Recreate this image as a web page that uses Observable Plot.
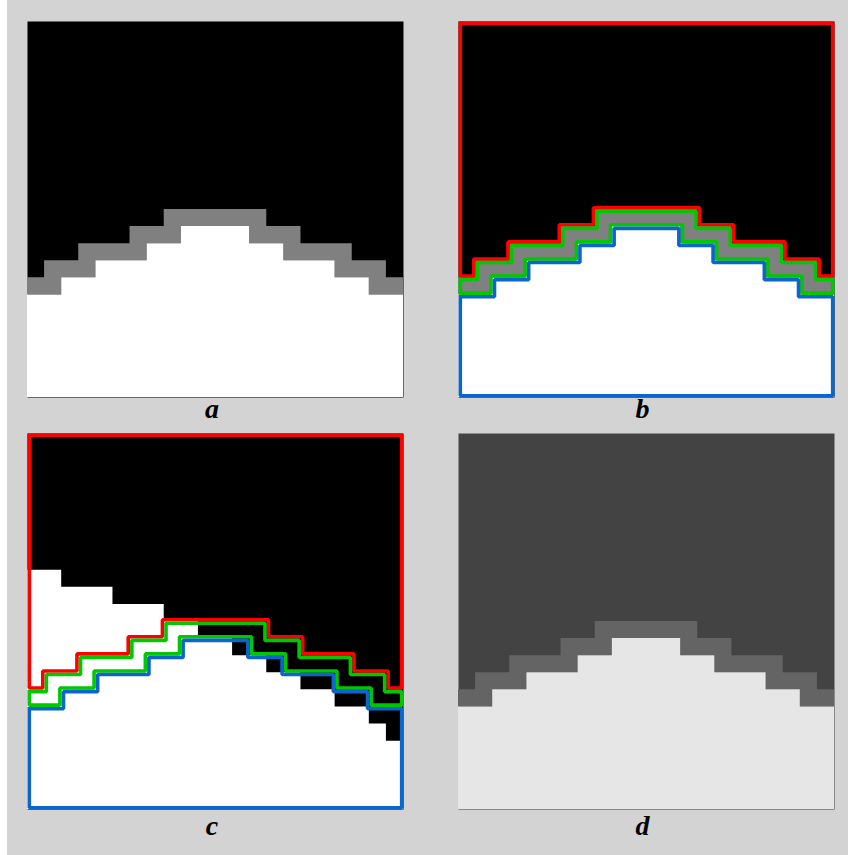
<!DOCTYPE html>
<html>
<head>
<meta charset="utf-8">
<script src="https://cdn.jsdelivr.net/npm/d3@7"></script>
<script src="https://cdn.jsdelivr.net/npm/@observablehq/plot@0.6"></script>
<style>
  html, body { margin: 0; padding: 0; background: #ffffff; }
  #wrap { position: relative; width: 853px; height: 855px; overflow: hidden; }
  #bg { position: absolute; left: 7px; top: 0; width: 841px; height: 855px; background: #d3d3d3; }
  .panel { position: absolute; width: 376px; height: 376px; }
  .lab { position: absolute; width: 376px; text-align: center;
         font: italic bold 28px "Liberation Serif", "DejaVu Serif", serif; line-height: 1; color: #000; }
</style>
</head>
<body>
<div id="wrap"><div id="bg"></div></div>
<script>
// ---- data: 22 x 22 pixel grid, one value per column ----
const columns = d3.range(22);
// first row of the gray boundary band (rows above it are black)
const bandTop  = [15,14,14,13,13,13,12,12,11,11,11,11,11,11,12,12,13,13,13,14,14,15];
// first row of the white region (rows between bandTop and this are the band)
const whiteTop = [16,16,15,15,14,14,14,13,13,12,12,12,12,13,13,14,14,14,15,15,16,16];
// panel c: first white row of the alternative binary image
const whiteTopC = [8,8,9,9,9,10,10,10,11,11,12,12,13,13,14,14,15,15,16,16,17,18];
const labels = ["a", "b", "c", "d"];
const paletteA = {dark: "#000000", band: "#808080", light: "#ffffff"};
const paletteD = {dark: "#434343", band: "#646464", light: "#e6e6e6"};
const contourColors = {dark: "#ff0000", band: "#00c800", light: "#0a66cc"};

const N = columns.length;
const size = 376;
const strokeW = 3.6;
const d = (strokeW / 2) / (size / N);   // inset, in cell units

// step data for areas (extra point at the right edge)
function steps(top, bottom) {
  return d3.range(N + 1).map(i => ({x: i, y1: top[Math.min(i, N - 1)], y2: bottom[Math.min(i, N - 1)]}));
}
const full = columns.map(() => N);

// inset staircase boundary; mode "min" = region lies above boundary, "max" = region lies below
function trans(f, c, mode) {
  if (f[c] === f[c - 1]) return c;
  const rightLower = f[c] > f[c - 1];
  return mode === "min" ? (rightLower ? c + d : c - d) : (rightLower ? c - d : c + d);
}
function stair(f, mode, dy) {
  const pts = [];
  for (let c = 0; c < N; c++) {
    const xa = c === 0 ? d : trans(f, c, mode);
    const xb = c === N - 1 ? N - d : trans(f, c + 1, mode);
    pts.push({x: xa, y: f[c] + dy}, {x: xb, y: f[c] + dy});
  }
  return pts;
}
function contours() {
  const dark = [{x: d, y: d}, {x: N - d, y: d}, ...stair(bandTop, "min", -d).reverse()];
  dark.push(dark[0]);
  const band = [...stair(bandTop, "max", d), ...stair(whiteTop, "min", -d).reverse()];
  band.push(band[0]);
  const light = [...stair(whiteTop, "max", d), {x: N - d, y: N - d}, {x: d, y: N - d}];
  light.push(light[0]);
  return [
    Plot.line(dark,  {x: "x", y: "y", stroke: contourColors.dark,  strokeWidth: strokeW, strokeLinejoin: "miter", strokeLinecap: "square"}),
    Plot.line(band,  {x: "x", y: "y", stroke: contourColors.band,  strokeWidth: strokeW, strokeLinejoin: "miter", strokeLinecap: "square"}),
    Plot.line(light, {x: "x", y: "y", stroke: contourColors.light, strokeWidth: strokeW, strokeLinejoin: "miter", strokeLinecap: "square"})
  ];
}

function threeTone(pal) {
  return [
    Plot.frame({fill: pal.dark, stroke: null}),
    Plot.areaY(steps(bandTop, whiteTop), {x: "x", y1: "y1", y2: "y2", curve: "step-after", fill: pal.band}),
    Plot.areaY(steps(whiteTop, full), {x: "x", y1: "y1", y2: "y2", curve: "step-after", fill: pal.light})
  ];
}

function panel(marks) {
  return Plot.plot({
    width: size, height: size, margin: 0,
    x: {domain: [0, N], axis: null},
    y: {domain: [0, N], reverse: true, axis: null},
    style: {background: "transparent", overflow: "visible"},
    marks
  });
}

const panels = [
  {marks: threeTone(paletteA), left: 27, top: 21, labTop: 395},
  {marks: [...threeTone(paletteA), ...contours()], left: 457.5, top: 21, labTop: 395},
  {marks: [Plot.frame({fill: "#000000", stroke: null}),
           Plot.areaY(steps(whiteTopC, full), {x: "x", y1: "y1", y2: "y2", curve: "step-after", fill: "#ffffff"}),
           ...contours()], left: 27, top: 433, labTop: 812},
  {marks: threeTone(paletteD), left: 457.5, top: 433, labTop: 812}
];

const wrap = document.getElementById("wrap");
panels.forEach((p, i) => {
  const div = document.createElement("div");
  div.className = "panel";
  div.style.left = p.left + "px";
  div.style.top = p.top + "px";
  div.appendChild(panel(p.marks));
  wrap.appendChild(div);
  const lab = document.createElement("div");
  lab.className = "lab";
  lab.textContent = labels[i];
  lab.style.left = (p.left - 3) + "px";
  lab.style.top = p.labTop + "px";
  wrap.appendChild(lab);
});
</script>
</body>
</html>
